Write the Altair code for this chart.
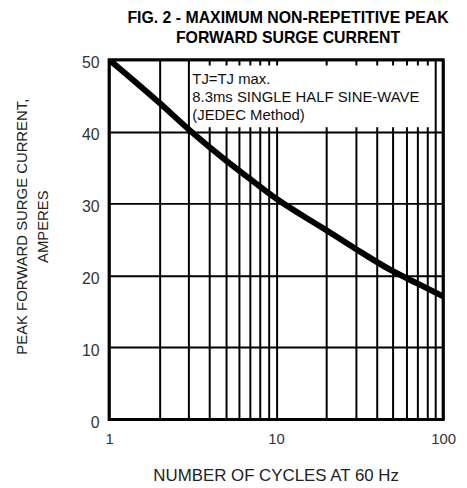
import altair as alt
import pandas as pd

# curve data
cycles = [1, 2, 3, 5, 7, 10, 20, 30, 50, 70, 100]
current = [50.0, 44.0, 40.3, 36.0, 33.4, 30.7, 26.3, 23.7, 20.6, 18.9, 17.1]

# grid / ticks
x_grid = [1, 2, 3, 4, 5, 6, 7, 8, 9, 10, 20, 30, 40, 50, 60, 70, 80, 90, 100]
y_ticks = [0, 10, 20, 30, 40, 50]

# note box
note_lines = ["TJ=TJ max.", "8.3ms SINGLE HALF SINE-WAVE", "(JEDEC Method)"]
note_x = [3.15, 3.15, 3.15]
note_y = [46.6, 44.1, 41.6]
box_x = [3.1]
box_x2 = [86.0]
box_y = [40.6]
box_y2 = [49.2]

FONT = "Liberation Sans"

curve_df = pd.DataFrame({"cycles": cycles, "current": current})
note_df = pd.DataFrame({"x": note_x, "y": note_y, "t": note_lines})
box_df = pd.DataFrame({"x": box_x, "x2": box_x2, "y": box_y, "y2": box_y2})

xscale = alt.Scale(type="log", domain=[1, 100], nice=False)
yscale = alt.Scale(domain=[0, 50], nice=False)

xaxis = alt.Axis(
    values=x_grid,
    labelExpr="(datum.value == 1 || datum.value == 10 || datum.value == 100) ? format(datum.value, 'd') : ''",
    grid=True, gridColor="black", gridWidth=2, gridOpacity=1,
    domain=False, ticks=False,
    labelFont=FONT, labelFontSize=15, labelColor="#333333", labelPadding=12,
    labelOverlap=False, labelBound=False, labelFlush=False,
    title="NUMBER OF CYCLES AT 60 Hz", titleFont=FONT, titleFontSize=17,
    titleFontWeight="normal", titleColor="#222222",
    titleX=168, titleY=62, titleBaseline="alphabetic", titleAlign="center",
)
yaxis = alt.Axis(
    values=y_ticks,
    grid=True, gridColor="black", gridWidth=2, gridOpacity=1,
    domain=False, ticks=False,
    labelFont=FONT, labelFontSize=16, labelColor="#333333", labelPadding=10,
    labelOffset=3,
    title=["PEAK FORWARD SURGE CURRENT,", "AMPERES"], titleFont=FONT,
    titleFontSize=15, titleFontWeight="normal", titleColor="#222222",
    titleAngle=-90, titleX=-83, titleY=168, titleAlign="center",
    titleBaseline="alphabetic", titleLineHeight=21,
)

box = alt.Chart(box_df).mark_rect(fill="white").encode(
    x=alt.X("x:Q", scale=xscale, axis=xaxis),
    x2="x2:Q",
    y=alt.Y("y:Q", scale=yscale, axis=yaxis),
    y2="y2:Q",
)

text = alt.Chart(note_df).mark_text(
    align="left", baseline="alphabetic", font=FONT, fontSize=15, color="#111111"
).encode(
    x=alt.X("x:Q", scale=xscale),
    y=alt.Y("y:Q", scale=yscale),
    text="t:N",
)

line = alt.Chart(curve_df).mark_line(
    color="black", strokeWidth=6, interpolate="monotone", clip=True
).encode(
    x=alt.X("cycles:Q", scale=xscale),
    y=alt.Y("current:Q", scale=yscale),
)

chart = alt.layer(box, text, line).properties(
    width=337,
    height=363,
    autosize=alt.AutoSizeParams(type="none"),
    padding={"left": 102, "top": 50, "right": 16, "bottom": 65},
    title=alt.TitleParams(
        text=["FIG. 2 - MAXIMUM NON-REPETITIVE PEAK", "FORWARD SURGE CURRENT"],
        font=FONT, fontSize=16, fontWeight="bold", color="black",
        anchor="middle", frame="group", dx=12, lineHeight=20, offset=9,
    ),
).configure_view(stroke="black", strokeWidth=3)

chart.save("out.html", embed_options={"renderer": "svg", "actions": False})
